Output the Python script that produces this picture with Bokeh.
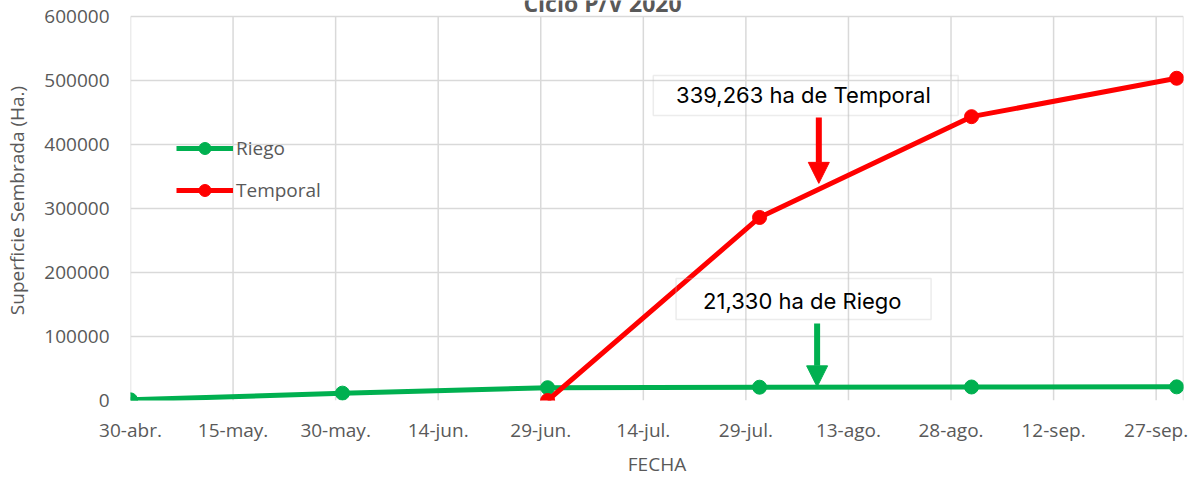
from datetime import datetime
from bokeh.plotting import figure
from bokeh.models import (ColumnDataSource, FixedTicker, Legend, LegendItem, Label,
                          BoxAnnotation, Arrow, NormalHead, Range1d, BasicTickFormatter)
from bokeh.embed import file_html
from bokeh.resources import INLINE

# ---------------- data ----------------
riego_fechas = ["2020-04-30", "2020-05-31", "2020-06-30", "2020-07-31", "2020-08-31", "2020-09-30"]
riego_valores = [1000, 11500, 20000, 20800, 21100, 21330]
temporal_fechas = ["2020-06-30", "2020-07-31", "2020-08-31", "2020-09-30"]
temporal_valores = [0, 286000, 443500, 503500]
tick_fechas = ["2020-04-30", "2020-05-15", "2020-05-30", "2020-06-14", "2020-06-29", "2020-07-14",
               "2020-07-29", "2020-08-13", "2020-08-28", "2020-09-12", "2020-09-27"]
tick_etiquetas = ["30-abr.", "15-may.", "30-may.", "14-jun.", "29-jun.", "14-jul.",
                  "29-jul.", "13-ago.", "28-ago.", "12-sep.", "27-sep."]
y_ticks = [0, 100000, 200000, 300000, 400000, 500000, 600000]
titulo = "Ciclo P/V 2020"
eje_x = "FECHA"
eje_y = "Superficie Sembrada (Ha.)"
anot_temporal = "339,263 ha de Temporal"
anot_riego = "21,330 ha de Riego"
valor_temporal = 339263
valor_riego = 21330

EPOCH = datetime(1970, 1, 1)


def ms(s):
    d = datetime.fromisoformat(s) if isinstance(s, str) else s
    return (d - EPOCH).total_seconds() * 1000.0


GRAY_TXT = "#595959"
GRID = "#d9d9d9"
GREEN = "#00b050"
RED = "#ff0000"
FONT = "Open Sans"
ANOT_FONT = "Inter"

X_START, X_END = "2020-04-30", "2020-10-01"
Y_MAX = 600000
Y_TOP = 625000  # a little room above the plot box for the (cut-off) chart title

p = figure(width=1201, height=479, x_axis_type="datetime",
           output_backend="svg", toolbar_location=None,
           min_border_left=130, min_border_right=18, min_border_top=0, min_border_bottom=79,
           x_range=Range1d(ms(X_START), ms(X_END)),
           y_range=Range1d(0, Y_TOP))
p.background_fill_color = "white"
p.border_fill_color = "white"
p.outline_line_color = None

# axes
p.xaxis.ticker = FixedTicker(ticks=[ms(t) for t in tick_fechas])
p.xaxis.major_label_overrides = {ms(t): lab for t, lab in zip(tick_fechas, tick_etiquetas)}
p.yaxis.ticker = FixedTicker(ticks=y_ticks)
p.yaxis.formatter = BasicTickFormatter(use_scientific=False)
for ax in (p.xaxis, p.yaxis):
    ax.axis_line_color = None
    ax.major_tick_line_color = None
    ax.minor_tick_line_color = None
    ax.major_tick_out = 0
    ax.major_tick_in = 0
    ax.major_label_text_font = FONT
    ax.major_label_text_font_size = "19px"
    ax.major_label_text_color = GRAY_TXT
    ax.axis_label_text_font = FONT
    ax.axis_label_text_font_size = "19px"
    ax.axis_label_text_font_style = "normal"
    ax.axis_label_text_color = GRAY_TXT
p.yaxis.major_label_standoff = 21
p.xaxis.major_label_standoff = 16
p.yaxis.axis_label = eje_y
p.yaxis.axis_label_standoff = 11
p.xaxis.axis_label = eje_x
p.xaxis.axis_label_standoff = 5

# grid: horizontal lines from the y axis ticks, vertical lines only up to the plot box top
p.ygrid.grid_line_color = GRID
p.ygrid.grid_line_width = 1.5
p.xgrid.grid_line_color = None
vx = [ms(t) for t in tick_fechas] + [ms(X_END)]
p.segment(x0=vx, y0=[0] * len(vx), x1=vx, y1=[Y_MAX] * len(vx),
          line_color=GRID, line_width=1.5, level="underlay")

# series
src_r = ColumnDataSource(dict(x=[ms(d) for d in riego_fechas], y=riego_valores))
src_t = ColumnDataSource(dict(x=[ms(d) for d in temporal_fechas], y=temporal_valores))
lr = p.line("x", "y", source=src_r, line_color=GREEN, line_width=5)
sr = p.scatter("x", "y", source=src_r, size=14, fill_color=GREEN, line_color=GREEN)
lt = p.line("x", "y", source=src_t, line_color=RED, line_width=5)
st = p.scatter("x", "y", source=src_t, size=14, fill_color=RED, line_color=RED)

legend = Legend(items=[LegendItem(label="Riego", renderers=[lr, sr]),
                       LegendItem(label="Temporal", renderers=[lt, st])],
                location=(46, 195), glyph_width=57, glyph_height=30, label_height=30,
                spacing=12, padding=0, margin=0, border_line_color=None,
                background_fill_alpha=0, label_text_font=FONT, label_text_font_size="19px",
                label_text_color=GRAY_TXT, label_standoff=3)
p.add_layout(legend)

# annotation boxes
p.add_layout(BoxAnnotation(left=ms("2020-07-15T11:00"), right=ms("2020-08-29T01:00"),
                           bottom=445300, top=507800, fill_alpha=0,
                           line_color="#bfbfbf", line_width=1.5))
p.add_layout(BoxAnnotation(left=ms("2020-07-18T19:00"), right=ms("2020-08-25T02:00"),
                           bottom=126600, top=190600, fill_alpha=0,
                           line_color="#bfbfbf", line_width=1.5))
p.add_layout(Label(x=ms("2020-08-06T10:00"), y=476600, text=anot_temporal,
                   text_align="center", text_baseline="middle", text_font=ANOT_FONT,
                   text_font_size="22px", text_color="black"))
p.add_layout(Label(x=ms("2020-08-06T06:00"), y=156000, text=anot_riego,
                   text_align="center", text_baseline="middle", text_font=ANOT_FONT,
                   text_font_size="22px", text_color="black"))

# arrows
p.add_layout(Arrow(end=NormalHead(size=21, fill_color=RED, line_color=RED),
                   x_start=ms("2020-08-08T16:00"), y_start=442000,
                   x_end=ms("2020-08-08T16:00"), y_end=valor_temporal,
                   line_color=RED, line_width=6))
p.add_layout(Arrow(end=NormalHead(size=21, fill_color=GREEN, line_color=GREEN),
                   x_start=ms("2020-08-08T10:00"), y_start=120300,
                   x_end=ms("2020-08-08T10:00"), y_end=valor_riego,
                   line_color=GREEN, line_width=6))

# chart title (its top is cut off by the image edge, as in the reference)
p.add_layout(Label(x=472, y=398, x_units="screen", y_units="screen", text=titulo,
                   text_align="center", text_baseline="alphabetic", text_font=FONT,
                   text_font_style="bold", text_font_size="23px", text_color=GRAY_TXT))

open("out.html", "w").write(file_html(p, INLINE))
